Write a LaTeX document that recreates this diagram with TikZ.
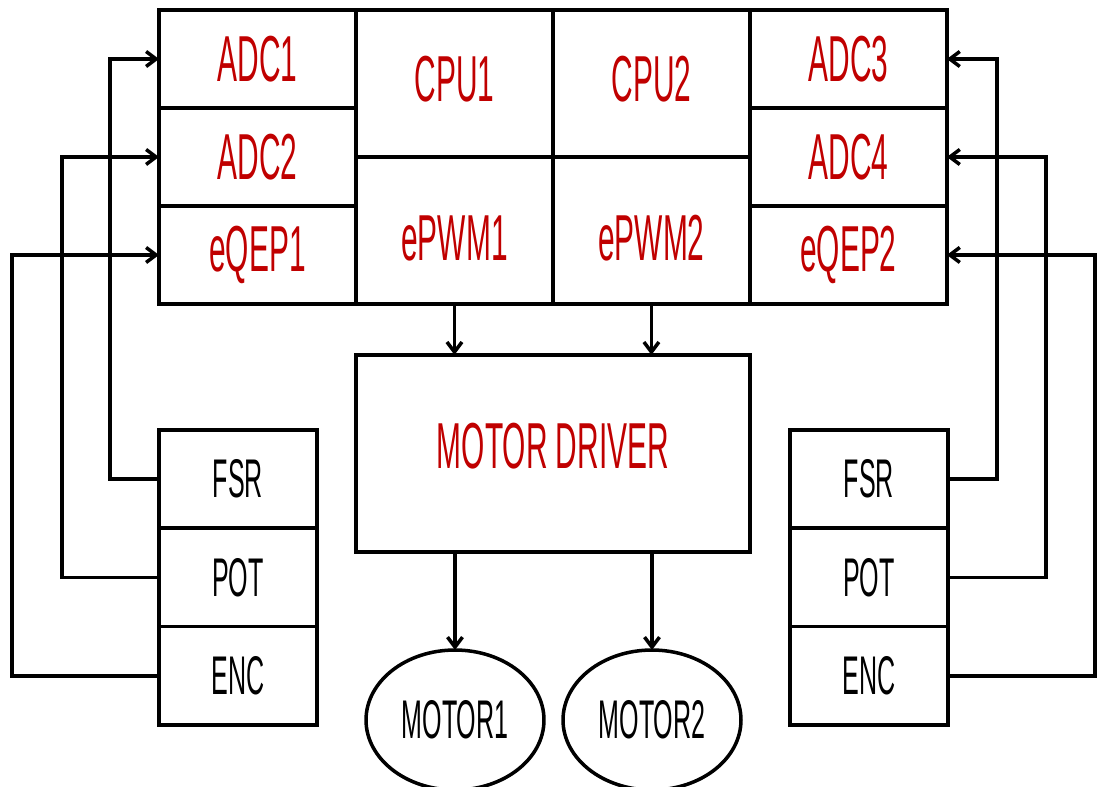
\documentclass[tikz,border=0pt]{standalone}
\usepackage{fontspec}
\usepackage{xcolor}
\usepackage{tikz}
\usetikzlibrary{arrows.meta,positioning,shapes.geometric}
\newfontfamily\agency[FakeStretch=0.46]{Liberation Sans}
\definecolor{labelred}{HTML}{C00000}
\begin{document}
\begin{tikzpicture}[
  x=0.02cm, y=-0.02cm,
  every path/.style={line width=2pt},
  cell/.style={draw,line width=2pt,outer sep=0pt,inner sep=0pt,minimum width=3.94cm,minimum height=1.96cm,text=labelred,font=\agency\fontsize{37}{42}\selectfont},
  cpubox/.style={cell,minimum height=2.94cm},
  drvbox/.style={cell,minimum width=7.88cm,minimum height=3.94cm,font=\agency\fontsize{37}{42}\selectfont},
  sensor/.style={draw,line width=2pt,outer sep=0pt,inner sep=0pt,minimum width=3.16cm,minimum height=1.97cm,font=\agency\fontsize{31}{36}\selectfont},
  motor/.style={draw,line width=2pt,ellipse,outer sep=0pt,inner sep=0pt,minimum width=3.56cm,minimum height=2.8cm,font=\agency\fontsize{31}{36}\selectfont},
  arr/.style={line width=2pt,-{Straight Barb[length=2mm,width=3mm]}}
]
\useasboundingbox (0,0) rectangle (1098,787);
\node[cell] (adc1) at (257.5,59) {ADC1};
\node[cell,below=0pt of adc1] (adc2) {ADC2};
\node[cell,below=0pt of adc2] (eqep1) {eQEP1};
\node[cpubox,anchor=north west,text depth=0.2cm] (cpu1) at (adc1.north east) {CPU1};
\node[cpubox,right=0pt of cpu1,text depth=0.2cm] (cpu2) {CPU2};
\node[cpubox,below=0pt of cpu1,text height=1.2cm] (epwm1) {ePWM1};
\node[cpubox,below=0pt of cpu2,text height=1.2cm] (epwm2) {ePWM2};
\node[cell,anchor=north west] (adc3) at (cpu2.north east) {ADC3};
\node[cell,below=0pt of adc3] (adc4) {ADC4};
\node[cell,below=0pt of adc4] (eqep2) {eQEP2};
\node[drvbox,below=1.02cm of epwm1.south east,text depth=0.32cm] (driver) {MOTOR DRIVER};
\node[motor] (motor1) at (455,720) {MOTOR1};
\node[motor] (motor2) at (652,720) {MOTOR2};
\node[sensor] (fsr1) at (238,479) {FSR};
\node[sensor,below=0pt of fsr1] (pot1) {POT};
\node[sensor,below=0pt of pot1] (enc1) {ENC};
\node[sensor] (fsr2) at (869,479) {FSR};
\node[sensor,below=0pt of fsr2] (pot2) {POT};
\node[sensor,below=0pt of pot2] (enc2) {ENC};
\draw[arr] (epwm1.south) -- (epwm1.south |- driver.north);
\draw[arr] (epwm2.south) -- (epwm2.south |- driver.north);
\draw[arr] (driver.south -| motor1) -- (motor1.north);
\draw[arr] (driver.south -| motor2) -- (motor2.north);
\draw[arr] (fsr1.west) -- ++(-49,0) |- (adc1.west);
\draw[arr] (pot1.west) -- ++(-97,0) |- (adc2.west);
\draw[arr] (enc1.west) -- ++(-147,0) |- (eqep1.west);
\draw[arr] (fsr2.east) -- ++(49,0) |- (adc3.east);
\draw[arr] (pot2.east) -- ++(98,0) |- (adc4.east);
\draw[arr] (enc2.east) -- ++(147,0) |- (eqep2.east);
\end{tikzpicture}
\end{document}
